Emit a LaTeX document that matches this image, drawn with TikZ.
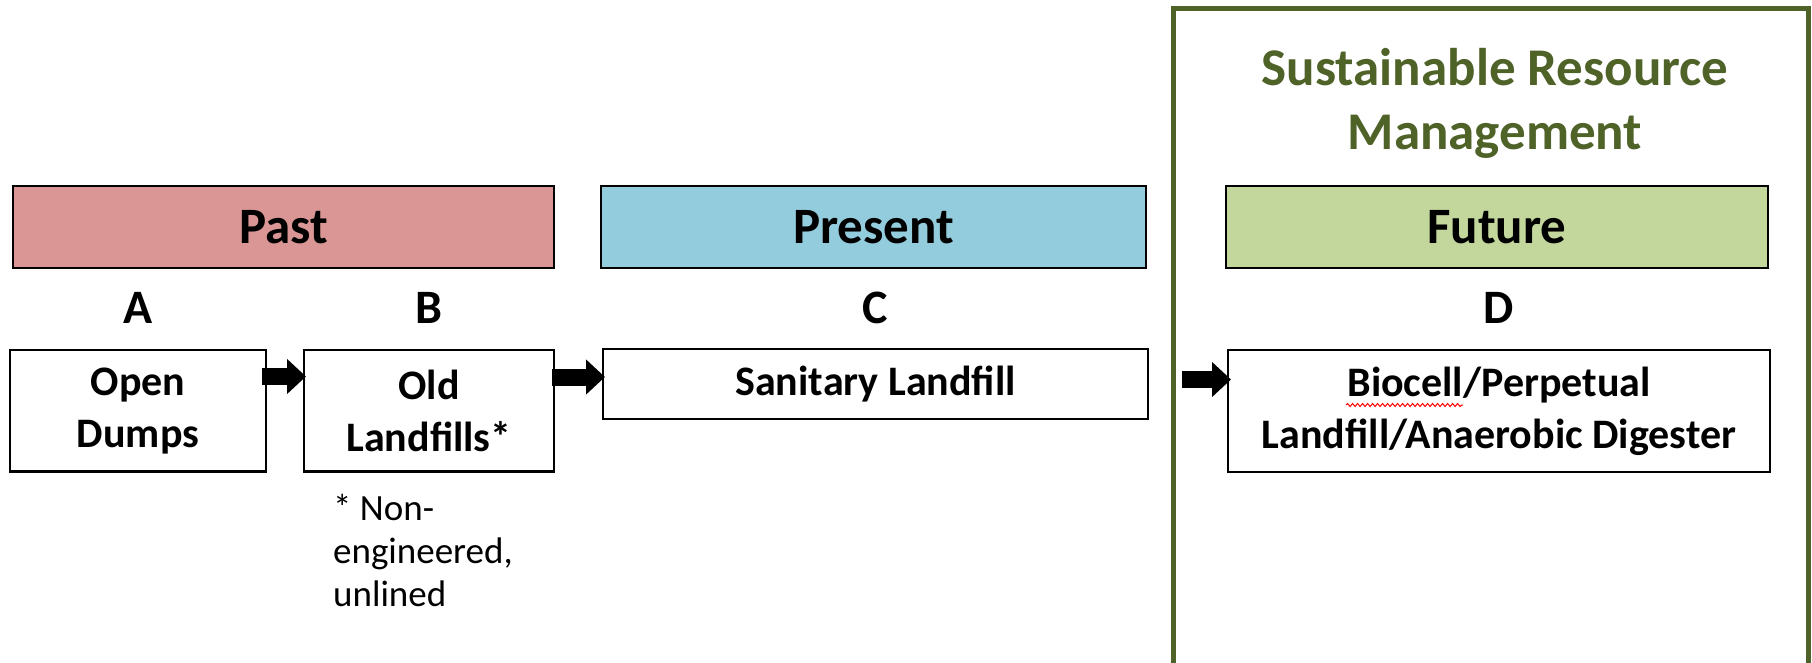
\documentclass[tikz,border=0pt]{standalone}
\usepackage{fontspec}
\setmainfont{Carlito}
\usetikzlibrary{arrows.meta,calc,decorations.pathmorphing}
\definecolor{pastfill}{HTML}{D99694}
\definecolor{presfill}{HTML}{93CDDD}
\definecolor{futfill}{HTML}{C3D69B}
\definecolor{olivetone}{HTML}{4F6228}
\begin{document}
\begin{tikzpicture}[x=1pt,y=-1pt,
  header/.style={draw=black, line width=2.5pt, minimum height=82pt, inner sep=0pt, outer sep=0pt,
    font=\fontsize{51}{62}\selectfont\bfseries},
  stagebox/.style={draw=black, line width=2.5pt, inner sep=0pt, outer sep=0pt, align=center, fill=white,
    font=\fontsize{42}{52}\selectfont\bfseries},
  letter/.style={anchor=base, inner sep=0pt, font=\fontsize{48}{58}\selectfont\bfseries},
  bigarrow/.style={line width=17pt, -{Triangle[length=19pt,width=34pt]}},
  frame/.style={draw=olivetone, line width=5pt, inner sep=0pt, outer sep=0pt},
  note/.style={inner sep=0pt, align=left, font=\fontsize{37}{43}\selectfont},
  title/.style={inner sep=0pt, align=center, text=olivetone, font=\fontsize{53}{64}\selectfont\bfseries},
  squiggle/.style={draw=red, line width=1pt, decorate, decoration={snake, amplitude=1.5pt, segment length=5pt}}
]
\useasboundingbox (0,0) rectangle (1812,662);
\clip (0,0) rectangle (1812,662);

% green frame (runs past the bottom edge)
\node[frame, anchor=north west, minimum width=635pt, minimum height=700pt] (frame) at (1173,8) {};
\node[title] (ttl) at (1495,103) {Sustainable Resource\\Management};

% headers
\node[header, fill=pastfill, minimum width=541pt] (past) at (283.5,227) {Past};
\node[header, fill=presfill, minimum width=545pt] (present) at (873.5,227) {Present};
\node[header, fill=futfill, minimum width=542pt] (future) at (1497,227) {Future};

% stage boxes
\node[stagebox, minimum width=256pt, minimum height=121.5pt] (od) at (138,410.75) {Open\\Dumps};
\node[stagebox, minimum width=250pt, minimum height=121.5pt] (ol) at (429,410.75) {Old\\Landfills*};
\node[stagebox, minimum width=545pt, minimum height=70pt] (sl) at (875.5,384) {Sanitary Landfill};
\node[stagebox, minimum width=542pt, minimum height=122pt] (db) at (1499,411) {Biocell/Perpetual\\Landfill/Anaerobic Digester};

% letters
\node[letter] (la) at (od.north |- 0,323) {A};
\node[letter] (lb) at (ol.north |- 0,323) {B};
\node[letter] (lc) at (sl.north |- 0,323) {C};
\node[letter] (ld) at (db.north |- 0,323) {D};

% footnote
\node[note, anchor=north west] (fn) at (333,494) {* Non-\\engineered,\\unlined};

% spell-check underline
\draw[squiggle] ($(db.north west)+(118,55)$) -- ++(117,0);

% arrows
\draw[bigarrow] ($(od.north east)+(-4,26.5)$) -- ($(ol.north west)+(2,26.5)$);
\draw[bigarrow] ($(ol.north east)+(-2,27)$) -- ($(sl.north west)+(2,28)$);
\draw[bigarrow] ($(db.north west)+(-46,29.5)$) -- ($(db.north west)+(3,29.5)$);
\end{tikzpicture}
\end{document}
